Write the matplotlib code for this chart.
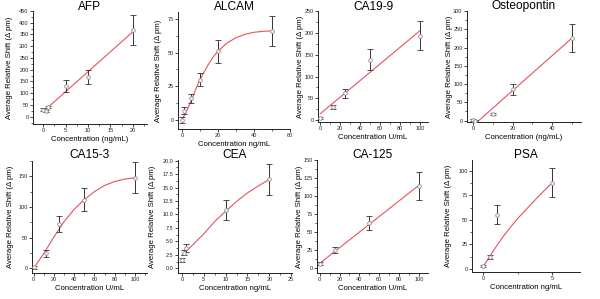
import numpy as np
import matplotlib
matplotlib.use("Agg")
import matplotlib.pyplot as plt
from matplotlib.ticker import MultipleLocator, FormatStrFormatter

plt.rcParams['font.family'] = ['Liberation Sans', 'DejaVu Sans']

# ---- data ----
afp_x = [0, 0.5, 1, 5, 10, 20]
afp_y = [30, 24, 40, 131, 168, 369]
afp_err = [5, 4, 5, 26, 29, 62]
afp_fit_x = [0, 20]
afp_fit_y = [22, 361]

alcam_x = [0, 1, 5, 10, 20, 50]
alcam_y = [0, 7, 16, 30, 51, 66]
alcam_err = [2, 2.5, 3, 5, 8.5, 11]
alcam_fit_x = [0, 2, 4, 6, 8, 10, 12.5, 15, 17.5, 20, 25, 30, 35, 40, 45, 50]
alcam_fit_y = [0.5, 5, 11, 17, 24, 30, 36, 42, 47, 51, 57, 61, 63.5, 65, 65.7, 66]

ca199_x = [0, 12.5, 25, 50, 100]
ca199_y = [5, 30, 62, 139, 193]
ca199_err = [3, 5, 10, 24, 33]
ca199_fit_x = [0, 100]
ca199_fit_y = [15, 205]

osteo_x = [0, 1, 10, 20, 50]
osteo_y = [1, 0, 18, 86, 226]
osteo_err = [3, 2, 2, 15, 38]
osteo_fit_x = [0, 50]
osteo_fit_y = [-14, 226]

ca153_x = [0, 12.5, 25, 50, 100]
ca153_y = [1, 24, 72, 112, 148]
ca153_err = [3, 5.5, 13, 19, 25]
ca153_fit_x = [0, 10, 20, 30, 40, 50, 60, 70, 80, 90, 100]
ca153_fit_y = [0, 24, 51, 76, 96, 112, 125, 135, 141.5, 145.5, 147.5]

cea_x = [0, 0.5, 1, 10, 20]
cea_y = [1.6, 2.9, 3.8, 10.8, 16.5]
cea_err = [0.35, 0.5, 0.8, 1.8, 2.8]
cea_fit_x = [0, 1, 2.5, 5, 7.5, 10, 12.5, 15, 17.5, 20]
cea_fit_y = [2.4, 3.2, 4.4, 6.4, 8.7, 10.6, 12.4, 14.0, 15.3, 16.5]

ca125_x = [0, 15, 50, 100]
ca125_y = [5.5, 24.5, 62, 114]
ca125_err = [2, 4.5, 10, 19.5]
ca125_fit_x = [0, 100]
ca125_fit_y = [6, 115]

psa_x = [0, 0.5, 1, 5]
psa_y = [3.3, 12.6, 55.5, 88]
psa_err = [1, 2, 9.5, 15]
psa_fit_x = [0, 0.5, 1, 1.5, 2, 2.5, 3, 3.5, 4, 4.5, 5]
psa_fit_y = [2, 13.5, 24, 34, 43, 51.5, 59, 66.5, 74, 81, 88]

W, H = 600, 299
fig = plt.figure(figsize=(W / 100, H / 100), dpi=100)

# title, data, xlabel, box (l, t, r, b px), xlim, ylim, xmajor, ymajor, yfmt, ylabel offset px, title baseline px
panels = [
  ("AFP", (afp_x, afp_y, afp_err, afp_fit_x, afp_fit_y), "Concentration (ng/mL)",
   (33, 11, 147, 124), (-2.3, 23.2), (-31, 450), 5, 50, "%d", -20, 9.5),
  ("ALCAM", (alcam_x, alcam_y, alcam_err, alcam_fit_x, alcam_fit_y), "Concentration ng/mL",
   (178, 12, 290, 129), (-2.2, 60), (-6.6, 80), 20, 25, "%d", -16, 10.5),
  ("CA19-9", (ca199_x, ca199_y, ca199_err, ca199_fit_x, ca199_fit_y), "Concentration U/mL",
   (318, 11, 428, 122), (-2.3, 108), (-4, 250), 20, 50, "%d", -14, 9.5),
  ("Osteopontin", (osteo_x, osteo_y, osteo_err, osteo_fit_x, osteo_fit_y), "Concentration (ng/mL)",
   (467, 11, 581, 122), (-3, 54.5), (-4, 300), 20, 50, "%d", -14, 9.5),
  ("CA15-3", (ca153_x, ca153_y, ca153_err, ca153_fit_x, ca153_fit_y), "Concentration U/mL",
   (32, 161, 147, 273), (-1.7, 112), (-8, 175), 20, 50, "%d", -18, 158.5),
  ("CEA", (cea_x, cea_y, cea_err, cea_fit_x, cea_fit_y), "Concentration ng/mL",
   (178, 160, 292, 273), (-0.9, 25.2), (-0.85, 20.1), 5, 2.5, "%.1f", -22, 158.5),
  ("CA-125", (ca125_x, ca125_y, ca125_err, ca125_fit_x, ca125_fit_y), "Concentration U/mL",
   (317, 160, 428, 273), (-2.7, 109), (-7.4, 150), 20, 25, "%d", -14, 158.5),
  ("PSA", (psa_x, psa_y, psa_err, psa_fit_x, psa_fit_y), "Concentration ng/mL",
   (472, 160, 580, 272), (-0.8, 7), (-3, 111), 5, 25, "%d", -20, 158.5),
]

for title, d, xlab, box, xl, yl, xm, ym, yfmt, yoff, tb in panels:
  l, t, r, b = box
  ax = fig.add_axes([l / W, 1 - b / H, (r - l) / W, (b - t) / H])
  x, y, e, fx, fy = d

  ax.plot(fx, fy, "-", color="#e8525a", lw=0.8, zorder=2)
  ax.errorbar(x, y, yerr=e, fmt="o", ms=2.6, mfc="white", mec="#8a8a8a", mew=0.6,
              ecolor="#333333", elinewidth=0.7, capsize=2.5, capthick=0.7, zorder=3)

  ax.set_xlim(*xl)
  ax.set_ylim(*yl)
  ax.xaxis.set_major_locator(MultipleLocator(xm))
  ax.xaxis.set_minor_locator(MultipleLocator(xm / 2))
  ax.yaxis.set_major_locator(MultipleLocator(ym))
  ax.yaxis.set_minor_locator(MultipleLocator(ym / 2))
  ax.yaxis.set_major_formatter(FormatStrFormatter(yfmt))

  for s in ["top", "right"]:
    ax.spines[s].set_visible(False)
  for s in ["left", "bottom"]:
    ax.spines[s].set_linewidth(0.7)
    ax.spines[s].set_color("#222222")
  ax.tick_params(which="major", direction="out", length=2.2, width=0.6, labelsize=4.0,
                 pad=1, colors="#222222")
  ax.tick_params(which="minor", direction="out", length=1.2, width=0.5, colors="#222222")

  # title placed by its baseline in pixels
  fig.text((l + r) / 2 / W, 1 - tb / H, title, fontsize=8.6, ha="center", va="baseline")
  ax.set_xlabel(xlab, fontsize=5.6, labelpad=1.5)
  ax.set_ylabel("Average Relative Shift (\u0394 pm)", fontsize=5.6)
  ax.yaxis.set_label_coords(yoff / (r - l), 0.5)

fig.savefig("out.png", dpi=100)
